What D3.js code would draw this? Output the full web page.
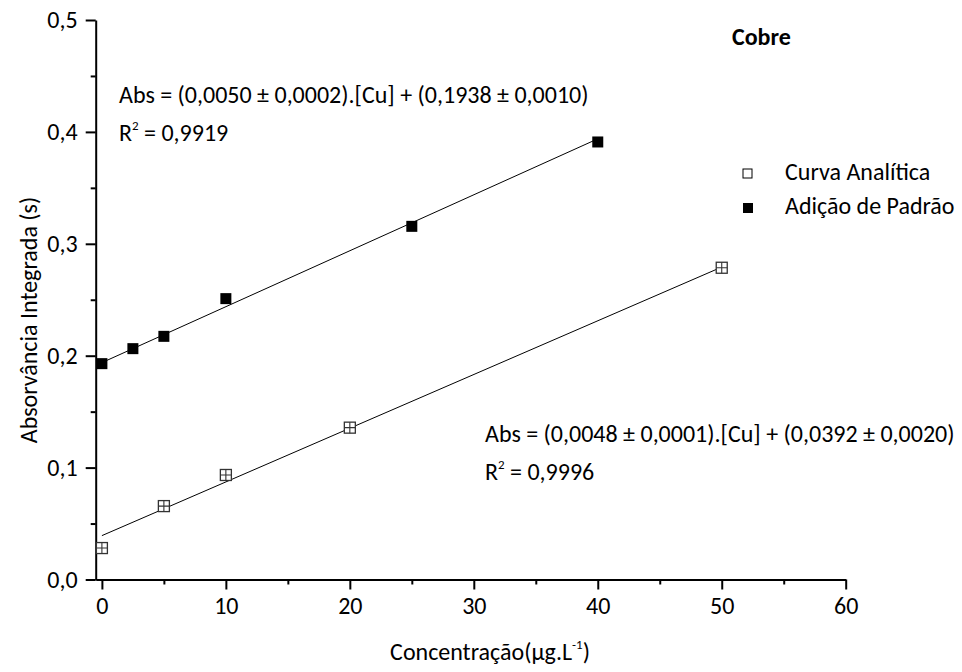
<!DOCTYPE html>
<html>
<head>
<meta charset="utf-8">
<script src="https://cdn.jsdelivr.net/npm/d3@7"></script>
<style>
body { margin:0; background:#fff; }
svg text { font-family: Carlito, Calibri, Lato, "Open Sans", sans-serif; fill:#000; }
</style>
</head>
<body>
<svg id="chart"></svg>
<script>
var screen = {width:962, height:672}
var plot = {left:95.7, right:845.7, top:20, bottom:579.5}

// data
var curvaX = [0, 5, 10, 20, 50]
var curvaY = [0.0281, 0.0656, 0.0934, 0.1357, 0.2786]
var adicaoX = [0, 2.5, 5, 10, 25, 40]
var adicaoY = [0.1929, 0.2063, 0.2173, 0.2510, 0.3156, 0.3910]

// fitted lines (end points from the equations)
var fitCurva = [[0, 0.0392], [50, 0.2792]]
var fitAdicao = [[0, 0.1938], [40, 0.3938]]

var xTicks = [0, 10, 20, 30, 40, 50, 60]
var xMinor = [5, 15, 25, 35, 45, 55]
var yTicks = [0, 0.1, 0.2, 0.3, 0.4, 0.5]
var yTickLabels = ["0,0", "0,1", "0,2", "0,3", "0,4", "0,5"]
var yMinor = [0.05, 0.15, 0.25, 0.35, 0.45]

var svg = d3.select("#chart")
            .attr("width", screen.width)
            .attr("height", screen.height)

var xScale = d3.scaleLinear().domain([-0.5, 60]).range([plot.left, plot.right])
var yScale = d3.scaleLinear().domain([0, 0.5]).range([plot.bottom, plot.top])

var fs = 24
var sup = 13

// minor ticks first
svg.append("g")
   .attr("transform", "translate(0," + plot.bottom + ")")
   .call(d3.axisBottom(xScale).tickValues(xMinor).tickSize(5).tickFormat(""))
   .call(function(g){ g.select(".domain").remove() })
svg.append("g")
   .attr("transform", "translate(" + plot.left + ",0)")
   .call(d3.axisLeft(yScale).tickValues(yMinor).tickSize(5).tickFormat(""))
   .call(function(g){ g.select(".domain").remove() })

var xAxis = svg.append("g")
   .attr("transform", "translate(0," + plot.bottom + ")")
   .call(d3.axisBottom(xScale).tickValues(xTicks).tickSize(10).tickSizeOuter(0).tickPadding(7))
var yAxis = svg.append("g")
   .attr("transform", "translate(" + plot.left + ",0)")
   .call(d3.axisLeft(yScale).tickValues(yTicks).tickSize(10).tickSizeOuter(0).tickPadding(8)
           .tickFormat(function(d, i){ return yTickLabels[i] }))

svg.selectAll(".tick line").attr("stroke", "#000").attr("stroke-width", 2)
svg.selectAll(".domain").attr("stroke", "#000").attr("stroke-width", 2)
svg.selectAll(".tick text").attr("font-size", fs).attr("font-family", null)

// fit lines
var line = d3.line().x(function(d){ return xScale(d[0]) }).y(function(d){ return yScale(d[1]) })
svg.append("path").datum(fitCurva).attr("d", line).attr("fill", "none").attr("stroke", "#000").attr("stroke-width", 1)
svg.append("path").datum(fitAdicao).attr("d", line).attr("fill", "none").attr("stroke", "#000").attr("stroke-width", 1)

// open markers with cross
var ms = 11
var open = svg.append("g").selectAll("g")
   .data(curvaX)
   .enter()
   .append("g")
   .attr("transform", function(d, i){ return "translate(" + xScale(d) + "," + yScale(curvaY[i]) + ")" })
open.append("rect")
    .attr("x", -ms/2).attr("y", -ms/2).attr("width", ms).attr("height", ms)
    .attr("fill", "#fff").attr("stroke", "#333").attr("stroke-width", 1.3)
open.append("path")
    .attr("d", "M" + (-ms/2) + ",0H" + (ms/2) + "M0," + (-ms/2) + "V" + (ms/2))
    .attr("stroke", "#333").attr("stroke-width", 1.1)

// filled markers
svg.append("g").selectAll("rect")
   .data(adicaoX)
   .enter()
   .append("rect")
   .attr("x", function(d){ return xScale(d) - ms/2 })
   .attr("y", function(d, i){ return yScale(adicaoY[i]) - ms/2 })
   .attr("width", ms).attr("height", ms)
   .attr("fill", "#000")

// legend
var legend = svg.append("g")
legend.append("rect").attr("x", 743).attr("y", 169).attr("width", 9).attr("height", 9)
      .attr("fill", "#fff").attr("stroke", "#000").attr("stroke-width", 1)
legend.append("rect").attr("x", 743).attr("y", 203).attr("width", 10).attr("height", 10)
      .attr("fill", "#000")
legend.append("text").attr("x", 785).attr("y", 180).attr("font-size", fs).text("Curva Analítica")
legend.append("text").attr("x", 785).attr("y", 214).attr("font-size", fs).text("Adição de Padrão")

// title
svg.append("text").attr("x", 732).attr("y", 45).attr("font-size", fs)
   .attr("font-weight", "bold").text("Cobre")

// equations
var eq = function(x, y, s, r2)
{
    svg.append("text").attr("x", x).attr("y", y).attr("font-size", fs).text(s)
    var t = svg.append("text").attr("x", x).attr("y", y + 38).attr("font-size", fs)
    t.append("tspan").text("R")
    t.append("tspan").attr("font-size", sup).attr("dy", -11).text("2")
    t.append("tspan").attr("dy", 11).text(" = " + r2)
}
eq(119, 103, "Abs = (0,0050 \u00b1 0,0002).[Cu] + (0,1938 \u00b1 0,0010)", "0,9919")
eq(485, 442, "Abs = (0,0048 \u00b1 0,0001).[Cu] + (0,0392 \u00b1 0,0020)", "0,9996")

// axis titles
var xt = svg.append("text").attr("x", 490).attr("y", 660).attr("font-size", fs).attr("text-anchor", "middle")
xt.append("tspan").text("Concentração(µg.L")
xt.append("tspan").attr("font-size", sup).attr("dy", -11).text("-1")
xt.append("tspan").attr("dy", 11).text(")")

svg.append("text")
   .attr("transform", "translate(37,320) rotate(-90)")
   .attr("font-size", fs).attr("text-anchor", "middle")
   .text("Absorvância Integrada (s)")
</script>
</body>
</html>
